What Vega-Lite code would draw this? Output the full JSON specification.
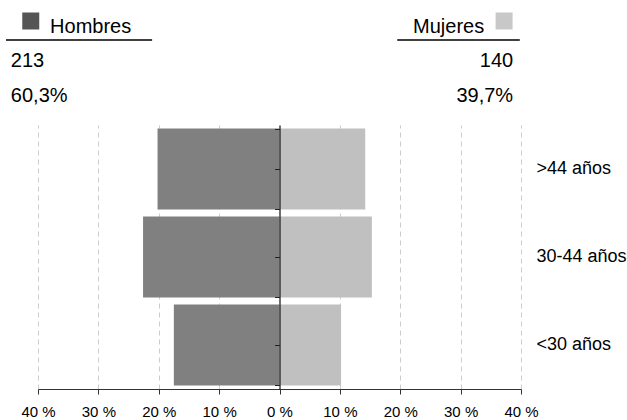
{
  "$schema": "https://vega.github.io/schema/vega-lite/v6.json",
  "padding": {"left": 5, "top": 0, "right": 5, "bottom": 0},
  "spacing": 0,
  "config": {"view": {"stroke": null}, "font": "Liberation Sans"},
  "datasets": {
    "pyr": [
      {"age": ">44 años", "sex": "Hombres", "pct": 20.2},
      {"age": "30-44 años", "sex": "Hombres", "pct": 22.6},
      {"age": "<30 años", "sex": "Hombres", "pct": 17.5},
      {"age": ">44 años", "sex": "Mujeres", "pct": 14.2},
      {"age": "30-44 años", "sex": "Mujeres", "pct": 15.3},
      {"age": "<30 años", "sex": "Mujeres", "pct": 10.2}
    ],
    "header": [
      {"sex": "Hombres", "row": "title", "text": "Hombres"},
      {"sex": "Hombres", "row": "count", "text": "213"},
      {"sex": "Hombres", "row": "pct", "text": "60,3%"},
      {"sex": "Mujeres", "row": "title", "text": "Mujeres"},
      {"sex": "Mujeres", "row": "count", "text": "140"},
      {"sex": "Mujeres", "row": "pct", "text": "39,7%"}
    ]
  },
  "vconcat": [
    {
      "width": 483,
      "height": 125,
      "data": {"name": "header"},
      "encoding": {
        "y": {"field": "row", "type": "ordinal", "scale": {"type": "point", "domain": ["title", "count", "pct"], "padding": 0.812, "align": 0.589}, "axis": null}
      },
      "layer": [
        {
          "transform": [{"filter": "datum.sex === 'Hombres' && datum.row !== 'title'"}],
          "mark": {"type": "text", "align": "left", "baseline": "alphabetic", "fontSize": 20, "color": "#000"},
          "encoding": {"x": {"datum": -44.5, "type": "quantitative", "scale": {"domain": [-40, 40], "nice": false, "zero": false}, "axis": null}, "text": {"field": "text"}}
        },
        {
          "transform": [{"filter": "datum.sex === 'Hombres' && datum.row === 'title'"}],
          "mark": {"type": "text", "align": "left", "baseline": "alphabetic", "fontSize": 20, "color": "#000"},
          "encoding": {"x": {"datum": -38.0, "type": "quantitative"}, "text": {"field": "text"}}
        },
        {
          "transform": [{"filter": "datum.sex === 'Mujeres' && datum.row !== 'title'"}],
          "mark": {"type": "text", "align": "right", "baseline": "alphabetic", "fontSize": 20, "color": "#000"},
          "encoding": {"x": {"datum": 38.7, "type": "quantitative"}, "text": {"field": "text"}}
        },
        {
          "transform": [{"filter": "datum.sex === 'Mujeres' && datum.row === 'title'"}],
          "mark": {"type": "text", "align": "right", "baseline": "alphabetic", "fontSize": 20, "color": "#000"},
          "encoding": {"x": {"datum": 33.9, "type": "quantitative"}, "text": {"field": "text"}}
        },
        {
          "transform": [{"filter": "datum.sex === 'Hombres' && datum.row === 'title'"}],
          "mark": {"type": "point", "shape": "square", "filled": true, "size": 289, "color": "#555555", "opacity": 1, "yOffset": -12},
          "encoding": {"x": {"datum": -41.2, "type": "quantitative"}}
        },
        {
          "transform": [{"filter": "datum.sex === 'Mujeres' && datum.row === 'title'"}],
          "mark": {"type": "point", "shape": "square", "filled": true, "size": 289, "color": "#c8c8c8", "opacity": 1, "yOffset": -12},
          "encoding": {"x": {"datum": 37.2, "type": "quantitative"}}
        },
        {
          "transform": [{"filter": "datum.sex === 'Hombres' && datum.row === 'title'"}],
          "mark": {"type": "rule", "color": "#000", "strokeWidth": 1.3, "yOffset": 7},
          "encoding": {"x": {"datum": -45.3, "type": "quantitative"}, "x2": {"datum": -21.1}}
        },
        {
          "transform": [{"filter": "datum.sex === 'Mujeres' && datum.row === 'title'"}],
          "mark": {"type": "rule", "color": "#000", "strokeWidth": 1.3, "yOffset": 7},
          "encoding": {"x": {"datum": 19.5, "type": "quantitative"}, "x2": {"datum": 39.8}}
        }
      ]
    },
    {
      "width": 483,
      "height": 264,
      "data": {"name": "pyr"},
      "transform": [{"calculate": "datum.sex === 'Hombres' ? -datum.pct : datum.pct", "as": "value"}],
      "encoding": {
        "x": {
          "field": "value", "type": "quantitative",
          "scale": {"domain": [-40, 40], "nice": false},
          "axis": {
            "values": [-40, -30, -20, -10, 0, 10, 20, 30, 40],
            "labelExpr": "abs(datum.value) + ' %'",
            "title": null, "grid": true, "gridDash": [5, 4], "gridColor": "#cccccc",
            "gridOpacity": {"condition": {"test": "datum.value === 0", "value": 0}, "value": 1},
            "domainColor": "#333333", "tickColor": "#333333", "tickSize": 5,
            "labelFontSize": 15, "labelColor": "#000000", "labelPadding": 10, "labelFlush": false,
            "labelFont": "Liberation Sans"
          }
        },
        "color": {"field": "sex", "type": "nominal", "scale": {"domain": ["Hombres", "Mujeres"], "range": ["#808080", "#c0c0c0"]}, "legend": null}
      },
      "layer": [
        {
          "mark": {"type": "bar"},
          "encoding": {
            "y": {"field": "age", "type": "nominal", "sort": [">44 años", "30-44 años", "<30 años"], "scale": {"paddingInner": 0.08, "paddingOuter": 0.04},
              "axis": {"orient": "right", "title": null, "ticks": false, "domain": false, "labelPadding": 15, "labelFontSize": 18, "labelColor": "#000000", "labelFont": "Liberation Sans"}}
          }
        },
        {
          "mark": {"type": "bar", "opacity": 0},
          "encoding": {
            "y": {"field": "age", "type": "nominal", "sort": [">44 años", "30-44 años", "<30 años"],
              "axis": {"orient": "left", "offset": -241.5, "zindex": 1, "title": null, "labels": false, "tickBand": "extent", "tickSize": 5, "domainColor": "#222222", "domainWidth": 1.3, "tickColor": "#222222", "grid": false}}
          }
        },
        {
          "mark": {"type": "bar", "opacity": 0},
          "encoding": {
            "y": {"field": "age", "type": "nominal", "sort": [">44 años", "30-44 años", "<30 años"],
              "axis": {"orient": "left", "offset": -241.5, "zindex": 1, "title": null, "labels": false, "domain": false, "tickSize": 5, "tickColor": "#222222", "grid": false}}
          }
        }
      ],
      "resolve": {"axis": {"y": "independent"}}
    }
  ]
}
